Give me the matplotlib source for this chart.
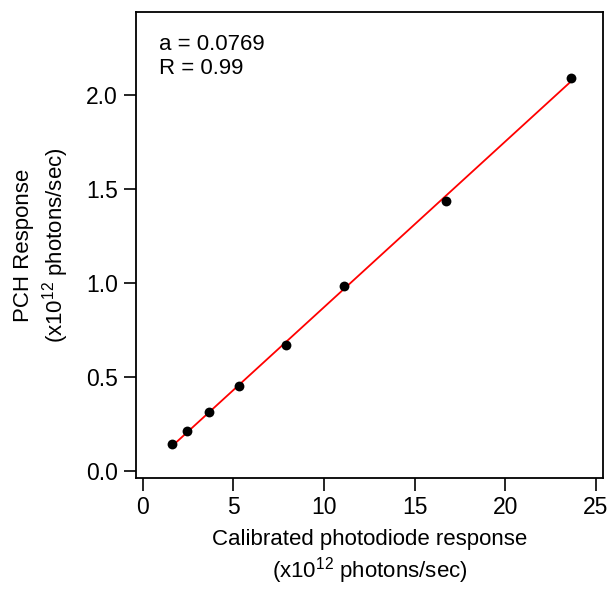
import numpy as np
import matplotlib
matplotlib.use("Agg")
import matplotlib.pyplot as plt

plt.rcParams['font.family'] = ['Liberation Sans', 'DejaVu Sans']
plt.rcParams['mathtext.fontset'] = 'custom'
plt.rcParams['mathtext.rm'] = 'Liberation Sans'
plt.rcParams['mathtext.it'] = 'Liberation Sans:italic'

# calibrated photodiode response vs PCH response (x10^12 photons/sec)
photodiode = [1.63, 2.44, 3.67, 5.33, 7.9, 11.1, 16.73, 23.64]
pch = [0.145, 0.211, 0.312, 0.454, 0.67, 0.984, 1.436, 2.092]
fit_text = ["a = 0.0769", "R = 0.99"]
xticks = [0, 5, 10, 15, 20, 25]
yticks = [0.0, 0.5, 1.0, 1.5, 2.0]

fig = plt.figure(figsize=(6.08, 5.89), dpi=100)
ax = fig.add_axes([0.2237, 0.1885, 0.768, 0.7915])

x = np.array(photodiode)
y = np.array(pch)
slope, icpt = np.polyfit(x, y, 1)
xf = np.array([x.min(), x.max()])
ax.plot(xf, slope * xf + icpt, color='#ff0000', lw=1.3, zorder=2)
ax.scatter(x, y, s=50, color='black', zorder=3, linewidths=0)

ax.set_xlim(-0.37, 25.39)
ax.set_ylim(-0.037, 2.443)
ax.set_xticks(xticks)
ax.set_yticks(yticks)
ax.set_yticklabels([f"{v:.1f}" for v in yticks])
ax.tick_params(direction='out', length=9, width=1.2, labelsize=16.5, pad=4, colors='black')
for sp in ax.spines.values():
    sp.set_linewidth(1.3)

ax.set_xlabel("Calibrated photodiode response\n(x10$^{12}$ photons/sec)", fontsize=16, labelpad=7,
              linespacing=1.25)
ax.set_ylabel("PCH Response\n(x10$^{12}$ photons/sec)", fontsize=16, labelpad=11, linespacing=1.25)

ax.text(0.05, 0.953, "\n".join(fit_text), transform=ax.transAxes, fontsize=16,
        va='top', ha='left', linespacing=1.2)

fig.savefig("out.png", dpi=100)
